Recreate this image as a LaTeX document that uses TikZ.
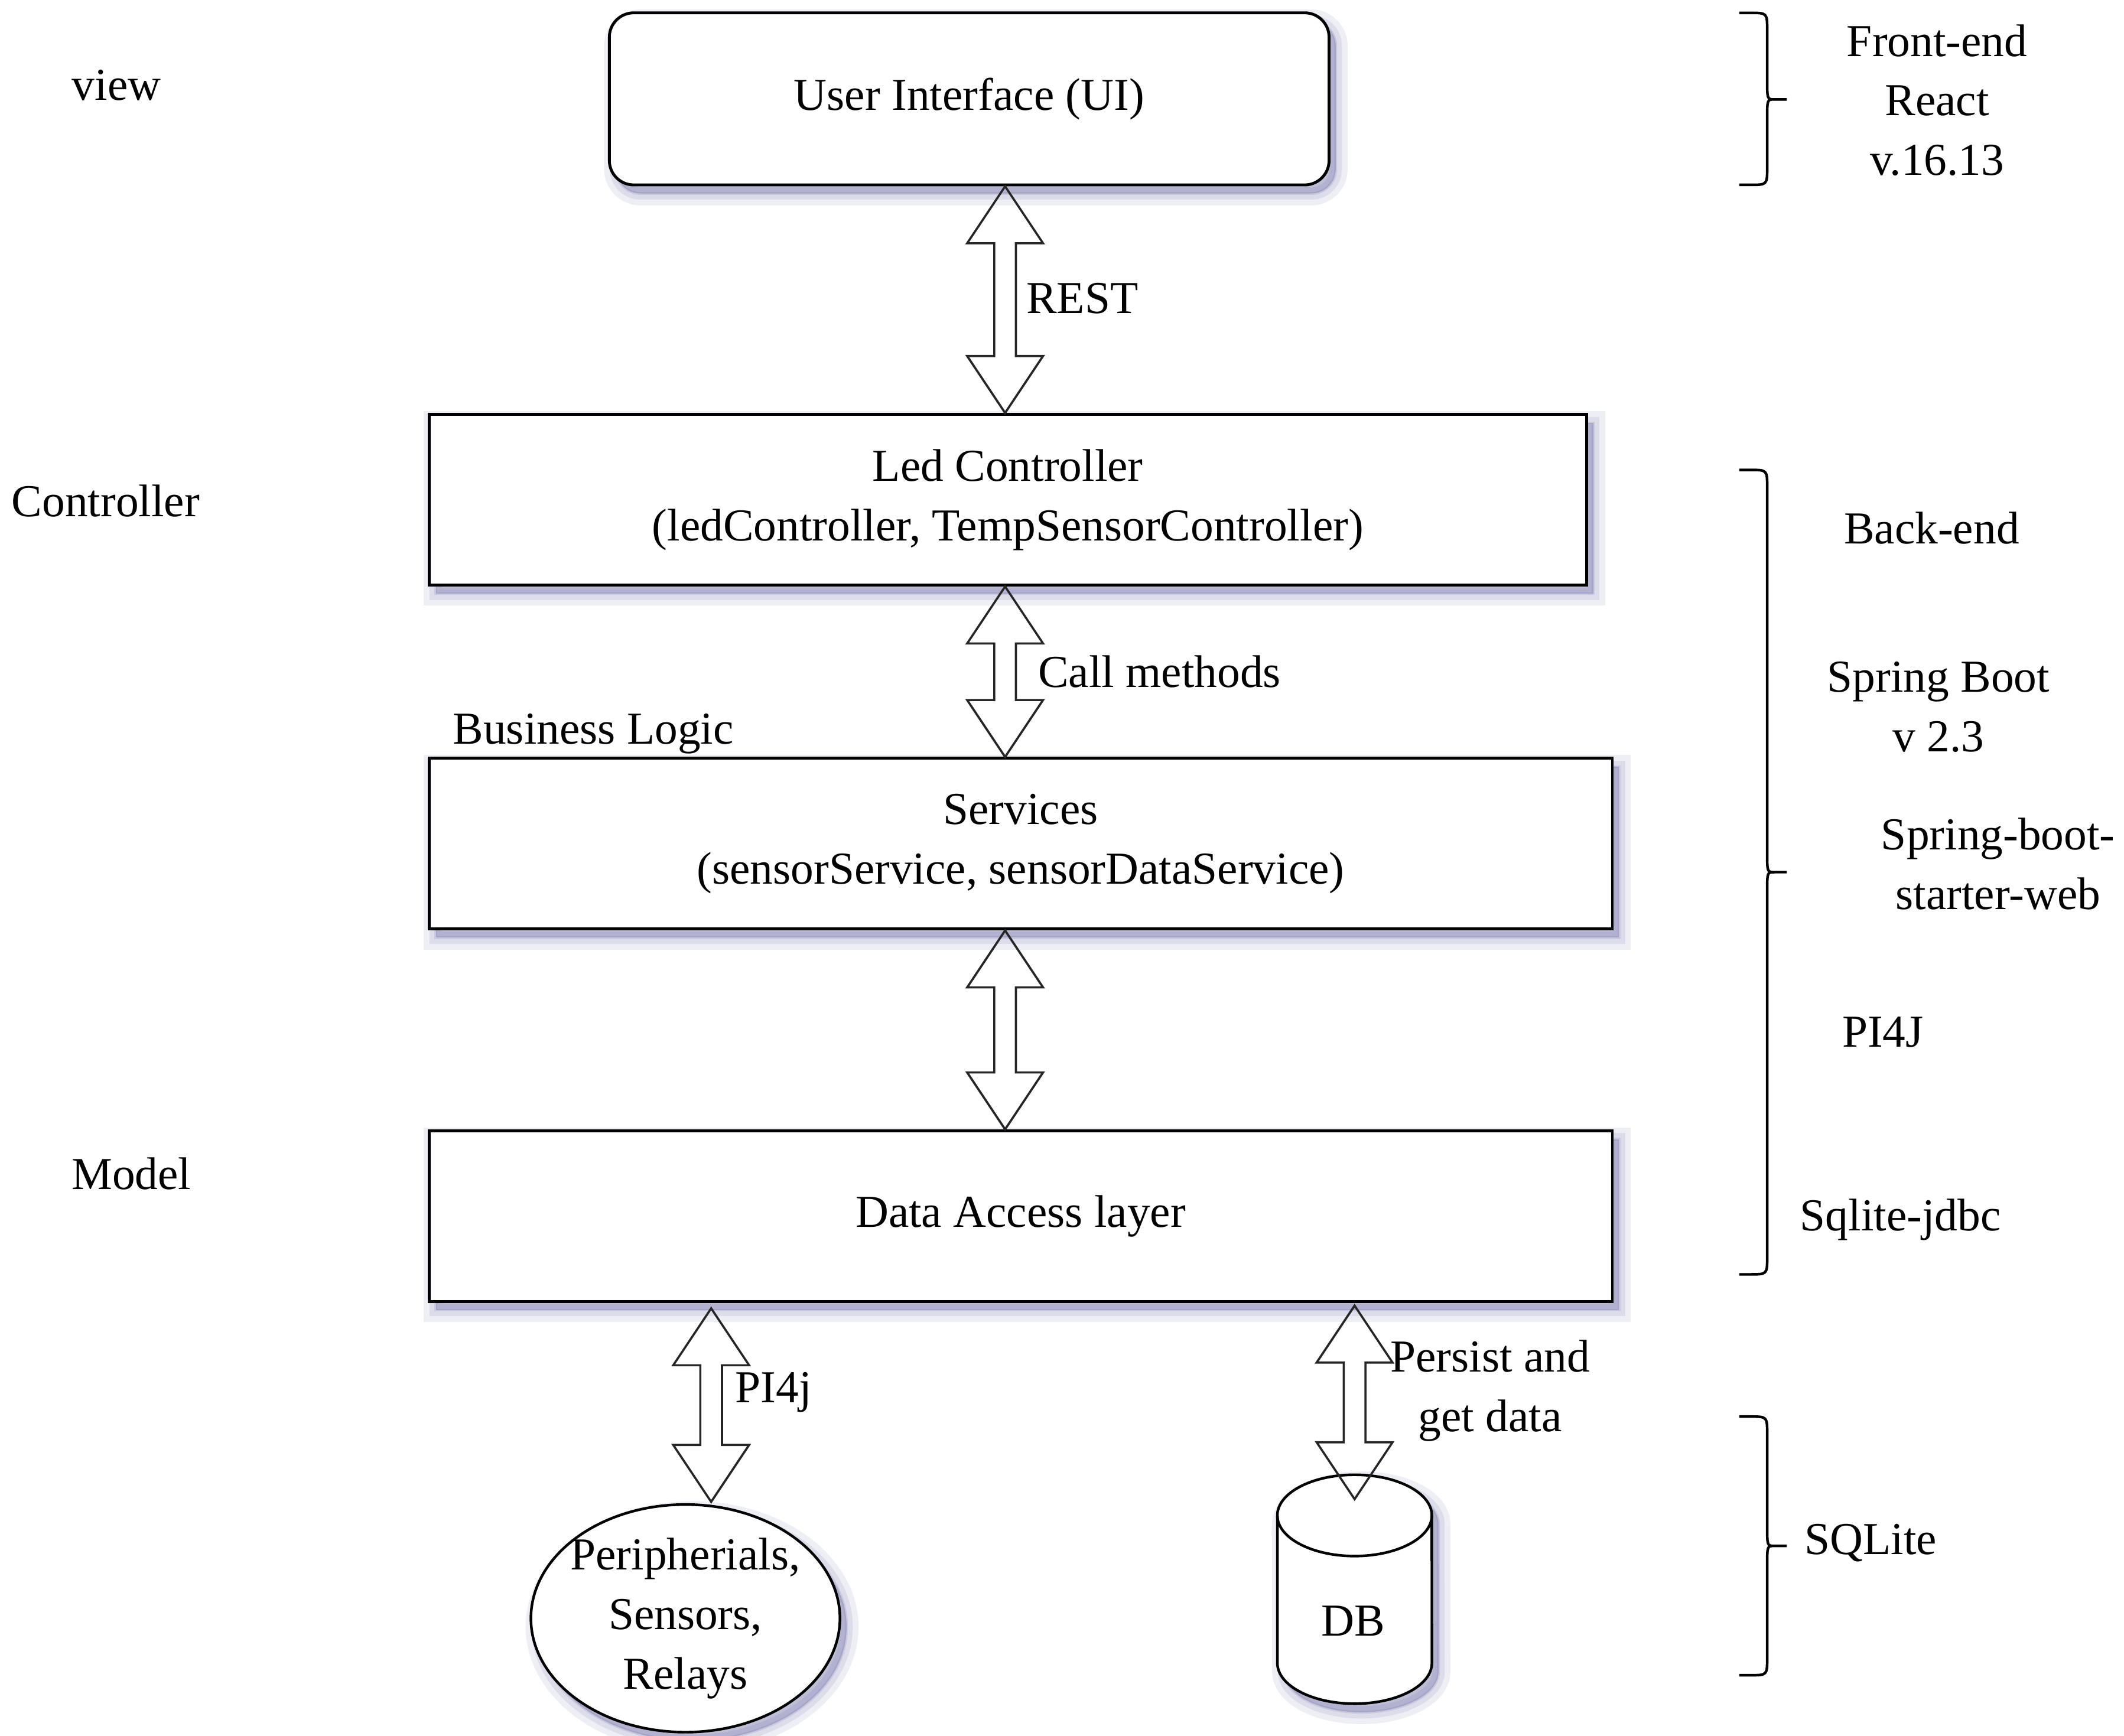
\documentclass[tikz,border=0pt]{standalone}
\usepackage{fontspec}
\setmainfont{Liberation Serif}
\usetikzlibrary{calc,shapes.geometric}
\definecolor{shadowc}{RGB}{100,100,160}

% vertical double-headed block arrow between an upper and a lower tip
\newcommand\fatud[2]{%
  \draw[fatarrow] let \p1=#1, \p2=#2 in
    (\x1,\y1) -- (\x1+0.28cm,\y1-0.42cm) -- (\x1+0.08cm,\y1-0.42cm)
    -- (\x1+0.08cm,\y2+0.42cm) -- (\x1+0.28cm,\y2+0.42cm) -- (\x1,\y2)
    -- (\x1-0.28cm,\y2+0.42cm) -- (\x1-0.08cm,\y2+0.42cm)
    -- (\x1-0.08cm,\y1-0.42cm) -- (\x1-0.28cm,\y1-0.42cm) -- cycle;}

% right-pointing curly brace on the right margin: top, middle, bottom
\newcommand\sidebrace[3]{%
  \draw[bracepath] (1284,#1) -- (1292,#1) .. controls (1304.6,#1) .. (1304.6,#1+13)
    -- (1304.6,#2-14) .. controls (1304.6,#2) .. (1310,#2) -- (1319,#2)
    (1310,#2) .. controls (1304.6,#2) .. (1304.6,#2+14)
    -- (1304.6,#3-13) .. controls (1304.6,#3) .. (1292,#3) -- (1284,#3);}

\begin{document}
\begin{tikzpicture}[x=0.01cm,y=-0.01cm,
  every node/.style={font=\fontsize{9.6}{12.5}\selectfont, inner sep=0pt},
  lbl/.style={text height=0.7em, text depth=0.2em},
  soft/.style={
    preaction={draw=shadowc, fill=shadowc, opacity=0.11, line width=5pt,
      transform canvas={shift={(1.4pt,-1.8pt)}}},
    preaction={draw=shadowc, fill=shadowc, opacity=0.13, line width=2.6pt,
      transform canvas={shift={(1.4pt,-1.8pt)}}},
    preaction={draw=shadowc, fill=shadowc, opacity=0.16, line width=0.6pt,
      transform canvas={shift={(1.4pt,-1.8pt)}}}},
  layerbox/.style={draw, line width=0.6pt, fill=white, soft, align=center},
  fatarrow/.style={draw=black!85, line width=0.45pt, line join=miter},
  bracepath/.style={draw, line width=0.55pt},
  cyl/.style={draw, line width=0.55pt}
]
\useasboundingbox (0,0) rectangle (1568,1281.5);

% layer boxes
\node[layerbox, rounded corners=0.18cm, minimum width=5.31cm, minimum height=1.27cm]
  (ui) at (715.5,73) {User Interface (UI)};
\node[layerbox, minimum width=8.54cm, minimum height=1.26cm]
  (lc) at (744,369) {Led Controller\\(ledController, TempSensorController)};
\node[layerbox, minimum width=8.73cm, minimum height=1.26cm]
  (svc) at (753.5,623) {Services\\(sensorService, sensorDataService)};
\node[layerbox, minimum width=8.73cm, minimum height=1.26cm]
  (dal) at (753.5,898) {Data Access layer};

% hardware
\node[ellipse, draw, line width=0.55pt, fill=white, soft,
  minimum width=2.28cm, minimum height=1.68cm]
  (per) at (506,1195) {};
\node[align=center] (pertext) at (per.center) {Peripherials,\\Sensors,\\Relays};

% database cylinder
\path[fill=white, soft] (943,1119) -- (943,1228)
  arc[start angle=180, end angle=360, x radius=0.57cm, y radius=0.3cm]
  -- (1057,1119)
  arc[start angle=0, end angle=180, x radius=0.57cm, y radius=0.3cm] -- cycle;
\draw[cyl] (943,1119) -- (943,1228)
  arc[start angle=180, end angle=360, x radius=0.57cm, y radius=0.3cm]
  -- (1057,1119);
\draw[cyl] (1000,1119) ellipse[x radius=0.57cm, y radius=0.3cm];
\node[lbl] (db) at (999,1199) {DB};

% arrow columns
\coordinate (xa) at (742,0);
\coordinate (xp) at (525,0);
\coordinate (xd) at (1000,0);
\coordinate (dbtip) at (1000,1107);

\fatud{(ui.south -| xa)}{(lc.north -| xa)}
\fatud{(lc.south -| xa)}{(svc.north -| xa)}
\fatud{(svc.south -| xa)}{(dal.north -| xa)}
\fatud{($(dal.south -| xp)+(0,-0.04cm)$)}{($(per.north -| xp)+(0,0.01cm)$)}
\fatud{($(dal.south -| xd)+(0,-0.02cm)$)}{(dbtip)}

% connector labels
\node[lbl] (rest) at (799,222.5) {REST};
\node[lbl] (call) at (856,498.5) {Call methods};
\node[lbl] (blogic) at (438,540.5) {Business Logic};
\node[lbl] (pi4j) at (571,1027) {PI4j};
\node[align=center] (persist) at (1100,1027) {Persist and\\get data};

% MVC roles
\node[lbl] (view) at (86,65) {view};
\node[lbl] (ctrl) at (78,372.5) {Controller};
\node[lbl] (model) at (97,869.5) {Model};

% technology braces
\sidebrace{9.5}{73.4}{136.5}
\sidebrace{347}{644}{941}
\sidebrace{1046}{1141.5}{1237}

\node[align=center] (front) at (1430,74) {Front-end\\React\\v.16.13};
\node[lbl] (back) at (1426,392.5) {Back-end};
\node[align=center] (spring) at (1431,522) {Spring Boot\\v 2.3};
\node[align=center] (starter) at (1475,638) {Spring-boot-\\starter-web};
\node[lbl] (pi4jlib) at (1390,764.5) {PI4J};
\node[lbl] (jdbc) at (1403,900) {Sqlite-jdbc};
\node[lbl] (sqlite) at (1381,1139) {SQLite};
\end{tikzpicture}
\end{document}
